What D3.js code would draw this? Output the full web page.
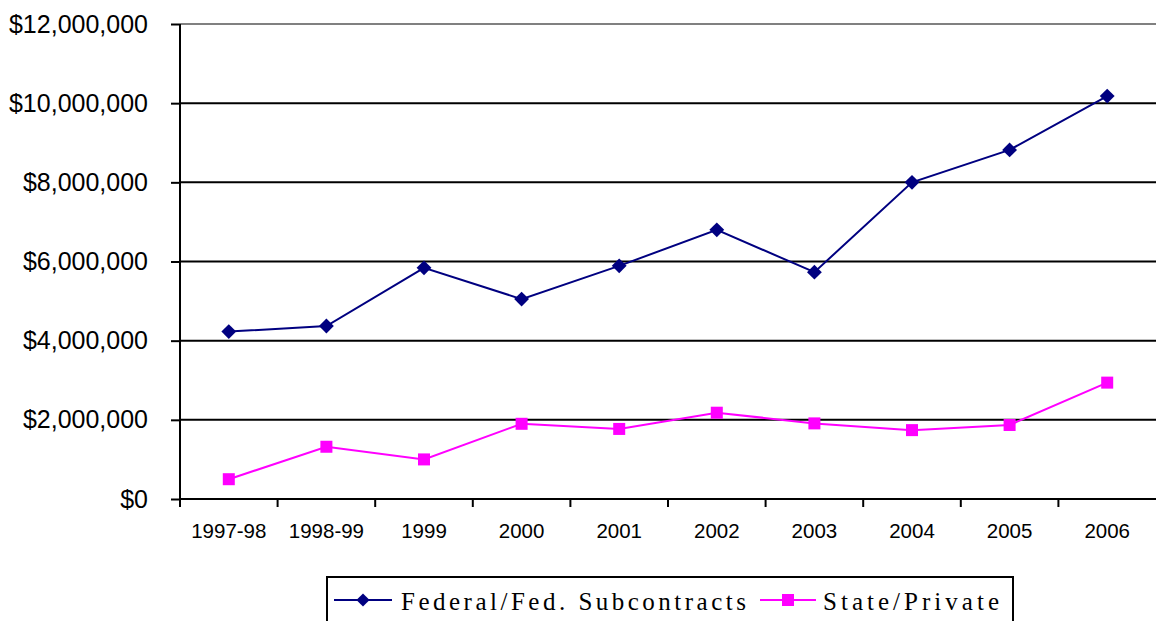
<!DOCTYPE html>
<html>
<head>
<meta charset="utf-8">
<script src="https://cdn.jsdelivr.net/npm/d3@7"></script>
<style>
  body { margin: 0; background: #fff; }
  svg { display: block; }
</style>
</head>
<body>
<div id="chart"></div>
<script>
// data
var years = ["1997-98", "1998-99", "1999", "2000", "2001", "2002", "2003", "2004", "2005", "2006"];
var federal = [4230000, 4370000, 5840000, 5050000, 5890000, 6800000, 5730000, 8000000, 8820000, 10180000];
var statePrivate = [500000, 1320000, 1000000, 1900000, 1770000, 2180000, 1910000, 1740000, 1870000, 2940000];
var yTicks = [0, 2000000, 4000000, 6000000, 8000000, 10000000, 12000000];
var seriesNames = ["Federal/Fed. Subcontracts", "State/Private"];

var svgWidth = 1156;
var svgHeight = 621;

var margin = { top: 24, right: 0, bottom: 122, left: 180 };
var width = svgWidth - margin.left - margin.right;
var height = svgHeight - margin.top - margin.bottom;

var svg = d3.select("#chart")
  .append("svg")
  .attr("width", svgWidth)
  .attr("height", svgHeight);

var chartGroup = svg.append("g")
  .attr("transform", `translate(${margin.left}, ${margin.top})`);

var xScale = d3.scaleBand()
  .domain(years)
  .range([0, width]);

var yScale = d3.scaleLinear()
  .domain([0, 12000000])
  .range([height, 0]);

// gridlines
chartGroup.selectAll(".grid")
  .data(yTicks.slice(1))
  .enter()
  .append("line")
  .attr("x1", 0)
  .attr("x2", width)
  .attr("y1", d => yScale(d))
  .attr("y2", d => yScale(d))
  .attr("stroke", d => d === 12000000 ? "#808080" : "#000")
  .attr("stroke-width", 2);

// y axis
var leftAxis = d3.axisLeft(yScale)
  .tickValues(yTicks)
  .tickSize(9)
  .tickPadding(23)
  .tickFormat(d => "$" + d3.format(",")(d));

var yAxis = chartGroup.append("g").call(leftAxis);
yAxis.select(".domain").remove();
yAxis.selectAll("line").attr("stroke", "#000").attr("stroke-width", 2);
yAxis.selectAll("text")
  .attr("font-family", "Arial, 'Liberation Sans', sans-serif")
  .attr("font-size", "25px")
  .attr("fill", "#000");

chartGroup.append("line")
  .attr("x1", 0).attr("x2", 0)
  .attr("y1", 0).attr("y2", height + 8)
  .attr("stroke", "#000").attr("stroke-width", 2);

// x axis
chartGroup.append("line")
  .attr("x1", 0).attr("x2", width)
  .attr("y1", height).attr("y2", height)
  .attr("stroke", "#000").attr("stroke-width", 2);

chartGroup.selectAll(".xtick")
  .data(years.slice(1))
  .enter()
  .append("line")
  .attr("x1", d => xScale(d))
  .attr("x2", d => xScale(d))
  .attr("y1", height)
  .attr("y2", height + 8)
  .attr("stroke", "#000").attr("stroke-width", 2);

chartGroup.selectAll(".xlabel")
  .data(years)
  .enter()
  .append("text")
  .attr("x", d => xScale(d) + xScale.bandwidth() / 2)
  .attr("y", height + 39)
  .attr("text-anchor", "middle")
  .attr("font-family", "Arial, 'Liberation Sans', sans-serif")
  .attr("font-size", "20.5px")
  .attr("fill", "#000")
  .text(d => d);

var cx = d => xScale(d) + xScale.bandwidth() / 2;

var seriesLine = d3.line()
  .x((d, i) => cx(years[i]))
  .y(d => yScale(d));

// federal series
chartGroup.append("path")
  .datum(federal)
  .attr("d", seriesLine)
  .attr("fill", "none")
  .attr("stroke", "#000080")
  .attr("stroke-width", 2);

chartGroup.selectAll(".fedPt")
  .data(federal)
  .enter()
  .append("path")
  .attr("d", d3.symbol().type(d3.symbolDiamond2).size(140))
  .attr("transform", (d, i) => `translate(${cx(years[i])}, ${yScale(d)})`)
  .attr("fill", "#000080");

// state / private series
chartGroup.append("path")
  .datum(statePrivate)
  .attr("d", seriesLine)
  .attr("fill", "none")
  .attr("stroke", "#ff00ff")
  .attr("stroke-width", 2);

chartGroup.selectAll(".statePt")
  .data(statePrivate)
  .enter()
  .append("rect")
  .attr("x", (d, i) => cx(years[i]) - 6)
  .attr("y", d => yScale(d) - 6)
  .attr("width", 12)
  .attr("height", 12)
  .attr("fill", "#ff00ff");

// legend
var legend = svg.append("g");
legend.append("rect")
  .attr("x", 327).attr("y", 577)
  .attr("width", 686).attr("height", 60)
  .attr("fill", "#fff")
  .attr("stroke", "#000").attr("stroke-width", 2);

legend.append("line")
  .attr("x1", 334).attr("x2", 392).attr("y1", 600).attr("y2", 600)
  .attr("stroke", "#000080").attr("stroke-width", 2);
legend.append("path")
  .attr("d", d3.symbol().type(d3.symbolDiamond2).size(110))
  .attr("transform", "translate(363,600)")
  .attr("fill", "#000080");
legend.append("text")
  .attr("x", 401).attr("y", 610)
  .attr("font-family", "'Liberation Serif', 'DejaVu Serif', serif")
  .attr("font-size", "25px")
  .attr("textLength", 345)
  .attr("lengthAdjust", "spacing")
  .text(seriesNames[0]);

legend.append("line")
  .attr("x1", 760).attr("x2", 816).attr("y1", 600).attr("y2", 600)
  .attr("stroke", "#ff00ff").attr("stroke-width", 2);
legend.append("rect")
  .attr("x", 782).attr("y", 594).attr("width", 12).attr("height", 12)
  .attr("fill", "#ff00ff");
legend.append("text")
  .attr("x", 823).attr("y", 610)
  .attr("font-family", "'Liberation Serif', 'DejaVu Serif', serif")
  .attr("font-size", "25px")
  .attr("textLength", 176)
  .attr("lengthAdjust", "spacing")
  .text(seriesNames[1]);
</script>
</body>
</html>
